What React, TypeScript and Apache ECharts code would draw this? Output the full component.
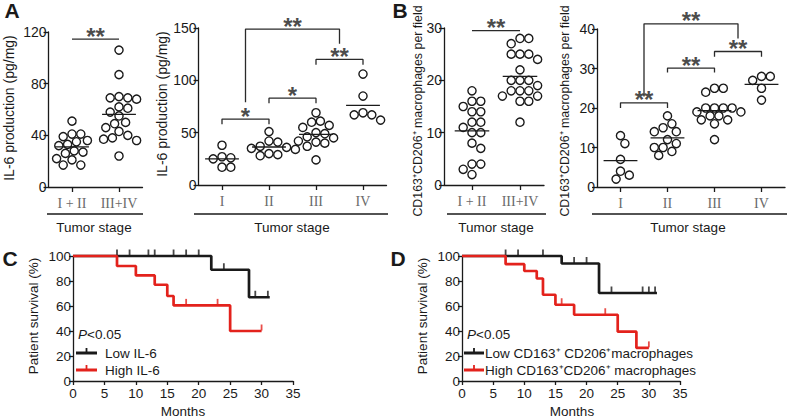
import React, { useEffect, useRef } from "react";
import * as echarts from "echarts";

// ---------------- DATA ----------------
// Panel A (left): IL-6 by combined stage
const aLeftCategories = ["I + II", "III+IV"];
const aLeftEarly = [51, 41, 41, 39, 36, 35, 33, 32, 28, 27, 26, 22, 21, 17, 17];
const aLeftLate = [106, 87, 70, 69, 69, 68, 62, 61, 58, 55, 50, 49, 46, 43, 40, 38, 37, 36, 24];
const aLeftMax = 120;
const aLeftInterval = 40;

// Panel A (right): IL-6 by stage
const aRightCategories = ["I", "II", "III", "IV"];
const aRightI = [38, 27, 26, 25, 17, 17];
const aRightII = [51, 42, 41, 37, 36, 35, 34, 30, 29, 28];
const aRightIII = [69, 61, 60, 57, 55, 50, 49, 46, 45, 42, 41, 40, 37, 24];
const aRightIV = [106, 85, 69, 67, 67, 62];
const aRightMax = 150;
const aRightInterval = 50;

// Panel B (left): CD163+CD206+ macrophages by combined stage
const bLeftCategories = ["I + II", "III+IV"];
const bLeftEarly = [18, 16, 16, 15, 14, 14, 12, 12, 11, 10, 10, 8, 7, 4, 4, 3, 2];
const bLeftLate = [28, 28, 27, 25, 25, 25, 24, 22, 20, 20, 20, 19, 18, 18, 18, 17, 17, 16, 16, 12];
const bLeftMax = 30;
const bLeftInterval = 10;

// Panel B (right)
const bRightCategories = ["I", "II", "III", "IV"];
const bRightI = [13, 11, 7, 4, 3, 2];
const bRightII = [18, 16, 15, 14, 14, 12, 11, 10, 10, 9, 8];
const bRightIII = [25, 25, 24, 20, 20, 20, 20, 19, 19, 18, 18, 17, 17, 16, 12];
const bRightIV = [28, 28, 27, 25, 22];
const bRightMax = 40;
const bRightInterval = 10;

// Significance brackets: from category, to category, bar height, left-leg end, right-leg end, label
const aLeftBrackets = [{ x1: 0, x2: 1, y: 114.5, y1: 114.5, y2: 114.5, label: "**" }];
const aRightBrackets = [
  { x1: 0, x2: 1, y: 63, y1: 58, y2: 58, label: "*" },
  { x1: 1, x2: 2, y: 83, y1: 78, y2: 78, label: "*" },
  { x1: 2, x2: 3, y: 120, y1: 115, y2: 115, label: "**" },
  { x1: 0.5, x2: 2.5, y: 149, y1: 79, y2: 135, label: "**" },
];
const bLeftBrackets = [{ x1: 0, x2: 1, y: 29.5, y1: 29.5, y2: 29.5, label: "**" }];
const bRightBrackets = [
  { x1: 0, x2: 1, y: 21.3, y1: 20, y2: 20, label: "**" },
  { x1: 1, x2: 2, y: 30.1, y1: 29, y2: 29, label: "**" },
  { x1: 2, x2: 3, y: 34.3, y1: 33, y2: 33, label: "**" },
  { x1: 0.5, x2: 2.5, y: 41.3, y1: 22.9, y2: 37.6, label: "**" },
];

// Panel C: Kaplan-Meier, IL-6
const cLowEvents = [22, 28];
const cLowSurvival = [89, 67];
const cLowEnd = 31.3;
const cLowCensor = [7, 9, 12, 13, 16, 18, 20, 24, 29, 31];
const cHighEvents = [7, 10, 13, 15, 16, 25];
const cHighSurvival = [92, 84.5, 77, 68, 60.5, 40];
const cHighEnd = 30;
const cHighCensor = [18, 23, 30];

// Panel D: Kaplan-Meier, macrophages
const dLowEvents = [16, 22];
const dLowSurvival = [94, 70.4];
const dLowEnd = 31.3;
const dLowCensor = [7, 9, 13, 18, 20, 24, 29, 30, 31];
const dHighEvents = [7, 10, 12, 13, 15, 18, 25, 28];
const dHighSurvival = [93.5, 88, 82, 69, 61, 53, 39.5, 26.5];
const dHighEnd = 30;
const dHighCensor = [16, 23, 30];

const kmMonthMax = 35;
const kmMonthInterval = 5;
const kmSurvMax = 100;
const kmSurvInterval = 20;

// ---------------- LAYOUT ----------------
const SANS = '"Liberation Sans", Arial, Helvetica, sans-serif';
const SERIF = '"Liberation Serif", "Times New Roman", serif';
const INK = "#1a1a1a";
const RED = "#e3221c";

const grids = [
  { left: 48.5, top: 32, width: 94, height: 155 }, // A left
  { left: 198.5, top: 28, width: 188, height: 157 }, // A right
  { left: 444, top: 28, width: 100, height: 157 }, // B left
  { left: 597, top: 29, width: 188, height: 158 }, // B right
  { left: 73, top: 256, width: 220, height: 125 }, // C
  { left: 462, top: 256, width: 218, height: 125 }, // D
];
const xRanges = [
  [-0.5, 1.5],
  [-0.5, 3.5],
  [-0.583, 1.5],
  [-0.5, 3.5],
];

function swarm(values: number[], pxPerUnit: number, pxPerCat: number, d = 8.8): number[] {
  const order = values.map((_, i) => i).sort((a, b) => values[b] - values[a]);
  const placed: { x: number; y: number }[] = [];
  const out: number[] = new Array(values.length).fill(0);
  for (const i of order) {
    const y = values[i] * pxPerUnit;
    for (let k = 0; k < 200; k++) {
      const step = Math.ceil(k / 2) * (d / 4);
      const x = k === 0 ? 0 : k % 2 === 1 ? step : -step;
      const ok = placed.every((p) => Math.hypot(p.x - x, p.y - y) >= d);
      if (ok) {
        placed.push({ x, y });
        out[i] = x / pxPerCat;
        break;
      }
    }
  }
  return out;
}

const axisLineStyle = { color: INK, width: 1.3 };

function catXAxis(gridIndex: number, cats: string[]) {
  const vals = cats.map((_, i) => i);
  return {
    gridIndex,
    type: "value",
    min: xRanges[gridIndex][0],
    max: xRanges[gridIndex][1],
    splitLine: { show: false },
    axisLine: { show: true, onZero: false, lineStyle: axisLineStyle },
    axisTick: { show: true, customValues: vals, length: 5, lineStyle: axisLineStyle },
    axisLabel: {
      show: true,
      customValues: vals,
      formatter: (v: number) => cats[Math.round(v)] ?? "",
      fontFamily: SERIF,
      fontSize: 14,
      color: "#6a6a6a",
      margin: 9,
    },
  };
}

function valYAxis(gridIndex: number, max: number, interval: number) {
  return {
    gridIndex,
    type: "value",
    min: 0,
    max,
    interval,
    splitLine: { show: false },
    axisLine: { show: true, onZero: false, lineStyle: axisLineStyle },
    axisTick: { show: true, length: 5, lineStyle: axisLineStyle },
    axisLabel: { fontSize: 14, color: INK, margin: 2, fontFamily: SANS },
  };
}

function groupSeries(groups: number[][], axisIndex: number) {
  const g = grids[axisIndex];
  const r = xRanges[axisIndex];
  const ymax = [aLeftMax, aRightMax, bLeftMax, bRightMax][axisIndex];
  const ppu = g.height / ymax;
  const ppc = g.width / (r[1] - r[0]);
  const series: any[] = [];
  groups.forEach((vals, gi) => {
    const offs = swarm(vals, ppu, ppc);
    series.push({
      type: "scatter",
      xAxisIndex: axisIndex,
      yAxisIndex: axisIndex,
      symbol: "circle",
      symbolSize: 8.2,
      silent: true,
      itemStyle: { color: "#ffffff", borderColor: INK, borderWidth: 1.4, opacity: 1 },
      data: vals.map((v, i) => [gi + offs[i], v]),
      z: 3,
    });
    const mean = vals.reduce((a, b) => a + b, 0) / vals.length;
    series.push({
      type: "line",
      xAxisIndex: axisIndex,
      yAxisIndex: axisIndex,
      symbol: "none",
      silent: true,
      lineStyle: { color: INK, width: 1.3 },
      data: [
        [gi - 0.36, mean],
        [gi + 0.36, mean],
      ],
      z: 4,
    });
  });
  return series;
}

function bracketSeries(brackets: any[], axisIndex: number) {
  const series: any[] = [];
  brackets.forEach((b) => {
    series.push({
      type: "line",
      xAxisIndex: axisIndex,
      yAxisIndex: axisIndex,
      symbol: "none",
      silent: true,
      clip: false,
      lineStyle: { color: "#2a2a2a", width: 1.3 },
      data: [
        [b.x1, b.y1],
        [b.x1, b.y],
        [b.x2, b.y],
        [b.x2, b.y2],
      ],
    });
    series.push({
      type: "scatter",
      xAxisIndex: axisIndex,
      yAxisIndex: axisIndex,
      symbol: "circle",
      symbolSize: 1,
      silent: true,
      clip: false,
      itemStyle: { color: "rgba(0,0,0,0)" },
      label: {
        show: true,
        position: "inside",
        offset: [0, -3],
        formatter: b.label,
        fontSize: 24,
        fontWeight: "bold",
        fontFamily: SANS,
        color: INK,
      },
      data: [[(b.x1 + b.x2) / 2, b.y]],
    });
  });
  return series;
}

function kmPath(events: number[], surv: number[], end: number): number[][] {
  const pts: number[][] = [[0, 100]];
  let cur = 100;
  events.forEach((t, i) => {
    pts.push([t, cur]);
    cur = surv[i];
    pts.push([t, cur]);
  });
  pts.push([end, cur]);
  return pts;
}

function survAt(events: number[], surv: number[], t: number): number {
  let s = 100;
  events.forEach((e, i) => {
    if (e <= t) s = surv[i];
  });
  return s;
}

function kmSeries(axisIndex: number, events: number[], surv: number[], end: number, censor: number[], color: string, z: number) {
  return [
    {
      type: "line",
      xAxisIndex: axisIndex,
      yAxisIndex: axisIndex,
      symbol: "none",
      silent: true,
      clip: false,
      lineStyle: { color, width: 2.7 },
      data: kmPath(events, surv, end),
      z,
    },
    {
      type: "scatter",
      xAxisIndex: axisIndex,
      yAxisIndex: axisIndex,
      symbol: "rect",
      symbolSize: [1.8, 6],
      symbolOffset: [0, -3.5],
      silent: true,
      clip: false,
      itemStyle: { color },
      data: censor.map((t) => [t, survAt(events, surv, t)]),
      z,
    },
  ];
}

function kmXAxis(gridIndex: number) {
  return {
    gridIndex,
    type: "value",
    min: 0,
    max: kmMonthMax,
    interval: kmMonthInterval,
    splitLine: { show: false },
    axisLine: { show: true, onZero: false, lineStyle: axisLineStyle },
    axisTick: { show: true, length: 4, lineStyle: axisLineStyle },
    axisLabel: { fontSize: 13.5, color: INK, margin: 5, fontFamily: SANS },
  };
}
function kmYAxis(gridIndex: number) {
  return {
    gridIndex,
    type: "value",
    min: 0,
    max: kmSurvMax,
    interval: kmSurvInterval,
    splitLine: { show: false },
    axisLine: { show: true, onZero: false, lineStyle: axisLineStyle },
    axisTick: { show: true, length: 4, lineStyle: axisLineStyle },
    axisLabel: { fontSize: 13.5, color: INK, margin: 2, fontFamily: SANS },
  };
}

function txt(x: number, y: number, text: string, opts: any = {}) {
  return {
    type: "text",
    x,
    y,
    rotation: opts.rotation ?? 0,
    silent: true,
    style: {
      text,
      fontSize: opts.fontSize ?? 13.5,
      fontWeight: opts.fontWeight ?? "normal",
      fontFamily: opts.fontFamily ?? SANS,
      fill: opts.fill ?? INK,
      align: opts.align ?? "center",
      verticalAlign: opts.verticalAlign ?? "middle",
      rich: opts.rich,
    },
  };
}
function hline(x1: number, x2: number, y: number, color = INK, width = 1.3) {
  return { type: "line", silent: true, shape: { x1, y1: y, x2, y2: y }, style: { stroke: color, lineWidth: width } };
}
function legendItem(x1: number, x2: number, y: number, color: string) {
  const mid = (x1 + x2) / 2;
  return [
    { type: "line", silent: true, shape: { x1, y1: y, x2, y2: y }, style: { stroke: color, lineWidth: 3 } },
    { type: "line", silent: true, shape: { x1: mid, y1: y, x2: mid, y2: y - 5 }, style: { stroke: color, lineWidth: 1.8 } },
  ];
}

function buildOption() {
  const series: any[] = [
    ...groupSeries([aLeftEarly, aLeftLate], 0),
    ...bracketSeries(aLeftBrackets, 0),
    ...groupSeries([aRightI, aRightII, aRightIII, aRightIV], 1),
    ...bracketSeries(aRightBrackets, 1),
    ...groupSeries([bLeftEarly, bLeftLate], 2),
    ...bracketSeries(bLeftBrackets, 2),
    ...groupSeries([bRightI, bRightII, bRightIII, bRightIV], 3),
    ...bracketSeries(bRightBrackets, 3),
    ...kmSeries(4, cLowEvents, cLowSurvival, cLowEnd, cLowCensor, INK, 2),
    ...kmSeries(4, cHighEvents, cHighSurvival, cHighEnd, cHighCensor, RED, 3),
    ...kmSeries(5, dLowEvents, dLowSurvival, dLowEnd, dLowCensor, INK, 2),
    ...kmSeries(5, dHighEvents, dHighSurvival, dHighEnd, dHighCensor, RED, 3),
  ];

  const yTitle = "IL-6 production (pg/mg)";
  const yTitleB = "CD163\u207ACD206\u207A macrophages per field";
  const italicP = { i: { fontStyle: "italic", fontSize: 13.5, fontFamily: SANS, fill: INK } };
  const graphic: any[] = [
    txt(12, 10, "A", { fontSize: 21, fontWeight: "bold" }),
    txt(400, 10, "B", { fontSize: 21, fontWeight: "bold" }),
    txt(10, 258, "C", { fontSize: 21, fontWeight: "bold" }),
    txt(398, 258, "D", { fontSize: 21, fontWeight: "bold" }),
    txt(9, 108, yTitle, { rotation: Math.PI / 2, fontSize: 14 }),
    txt(162, 104, yTitle, { rotation: Math.PI / 2, fontSize: 14 }),
    txt(418, 111, yTitleB, { rotation: Math.PI / 2, fontSize: 12.4 }),
    txt(565, 111, yTitleB, { rotation: Math.PI / 2, fontSize: 12.4 }),
    hline(47, 143, 214),
    hline(194, 388, 214),
    hline(447, 546, 214),
    hline(592, 787, 214),
    txt(94, 227, "Tumor stage"),
    txt(292, 227, "Tumor stage"),
    txt(496, 227, "Tumor stage"),
    txt(688, 227, "Tumor stage"),
    txt(33, 316, "Patient survival (%)", { rotation: Math.PI / 2 }),
    txt(422, 316, "Patient survival (%)", { rotation: Math.PI / 2 }),
    txt(183, 411, "Months"),
    txt(572, 411, "Months"),
    txt(78, 334, "{i|P}<0.05", { align: "left", rich: italicP }),
    txt(467, 334, "{i|P}<0.05", { align: "left", rich: italicP }),
    ...legendItem(76, 97, 353, INK),
    ...legendItem(76, 97, 370, RED),
    txt(105, 353, "Low IL-6", { align: "left" }),
    txt(105, 370, "High IL-6", { align: "left" }),
    ...legendItem(464, 484, 353, INK),
    ...legendItem(464, 484, 370, RED),
    txt(485, 353, "Low CD163\u207A CD206\u207Amacrophages", { align: "left" }),
    txt(485, 370, "High CD163\u207ACD206\u207A macrophages", { align: "left" }),
  ];

  return {
    animation: false,
    backgroundColor: "#ffffff",
    textStyle: { fontFamily: SANS },
    grid: grids.map((g) => ({ ...g, containLabel: false })),
    xAxis: [
      catXAxis(0, aLeftCategories),
      catXAxis(1, aRightCategories),
      catXAxis(2, bLeftCategories),
      catXAxis(3, bRightCategories),
      kmXAxis(4),
      kmXAxis(5),
    ],
    yAxis: [
      valYAxis(0, aLeftMax, aLeftInterval),
      valYAxis(1, aRightMax, aRightInterval),
      valYAxis(2, bLeftMax, bLeftInterval),
      valYAxis(3, bRightMax, bRightInterval),
      kmYAxis(4),
      kmYAxis(5),
    ],
    series,
    graphic,
  };
}

export default function App() {
  const ref = useRef<HTMLDivElement>(null);
  useEffect(() => {
    if (!ref.current) return;
    const chart = echarts.init(ref.current, null, { renderer: "svg" });
    chart.setOption(buildOption() as any);
    return () => chart.dispose();
  }, []);
  return (
    <div
      ref={ref}
      style={{ position: "fixed", left: 0, top: 0, width: 787, height: 418, background: "#ffffff" }}
    />
  );
}
